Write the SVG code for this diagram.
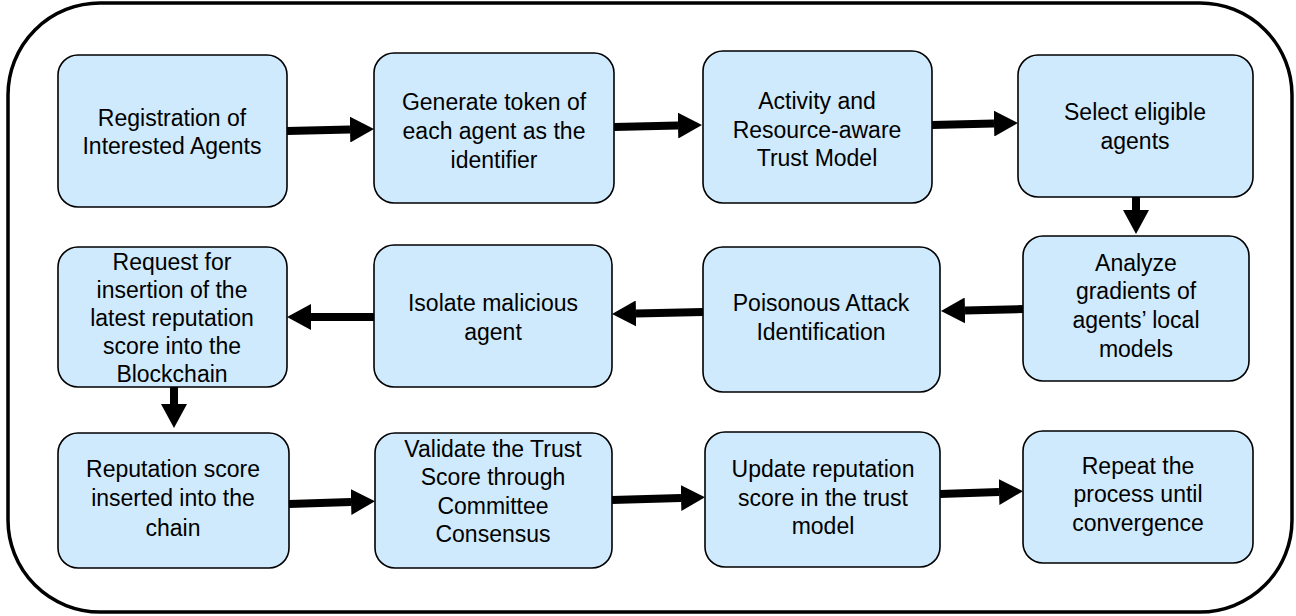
<svg xmlns="http://www.w3.org/2000/svg" width="1296" height="616" viewBox="0 0 1296 616">
<defs>
<style>
.frame{fill:#fff;stroke:#000;stroke-width:3.5}
.box{fill:#cfeafc;stroke:#000;stroke-width:1.6}
.t{font-family:"Liberation Sans",Arial,sans-serif;font-size:23px;fill:#000;text-anchor:middle}
.c{stroke:#000;stroke-width:8;fill:none}
</style>
<marker id="ah" markerUnits="userSpaceOnUse" viewBox="0 0 24 26" refX="0" refY="13" markerWidth="24" markerHeight="26" orient="auto">
<path d="M0,0 L24,13 L0,26 z" fill="#000"/>
</marker>
</defs>
<rect width="1296" height="616" fill="#fff"/>
<rect class="frame" x="8" y="3" width="1284" height="609" rx="92" ry="92"/>
<g id="n1"><rect class="box" x="58" y="55" width="229" height="152" rx="20"/>
<text class="t" x="172" y="126">Registration of</text><text class="t" x="172" y="154">Interested Agents</text></g>
<g id="n2"><rect class="box" x="374" y="53" width="240" height="150" rx="20"/>
<text class="t" x="494" y="110">Generate token of</text><text class="t" x="494" y="139">each agent as the</text><text class="t" x="494" y="168">identifier</text></g>
<g id="n3"><rect class="box" x="703" y="51" width="229" height="152" rx="20"/>
<text class="t" x="817" y="109">Activity and</text><text class="t" x="817" y="138">Resource-aware</text><text class="t" x="817" y="166">Trust Model</text></g>
<g id="n4"><rect class="box" x="1018" y="55" width="235" height="142" rx="20"/>
<text class="t" x="1135" y="120">Select eligible</text><text class="t" x="1135" y="149">agents</text></g>
<g id="n5"><rect class="box" x="58" y="247" width="229" height="140" rx="20"/>
<text class="t" x="172" y="270">Request for</text><text class="t" x="172" y="298">insertion of the</text><text class="t" x="172" y="326">latest reputation</text><text class="t" x="172" y="354">score into the</text><text class="t" x="172" y="382">Blockchain</text></g>
<g id="n6"><rect class="box" x="374" y="245" width="238" height="142" rx="20"/>
<text class="t" x="493" y="311">Isolate malicious</text><text class="t" x="493" y="340">agent</text></g>
<g id="n7"><rect class="box" x="703" y="247" width="237" height="145" rx="20"/>
<text class="t" x="821" y="311">Poisonous Attack</text><text class="t" x="821" y="340">Identification</text></g>
<g id="n8"><rect class="box" x="1023" y="236" width="226" height="145" rx="20"/>
<text class="t" x="1136" y="271">Analyze</text><text class="t" x="1136" y="299">gradients of</text><text class="t" x="1136" y="328">agents’ local</text><text class="t" x="1136" y="357">models</text></g>
<g id="n9"><rect class="box" x="58" y="433" width="231" height="135" rx="20"/>
<text class="t" x="173" y="477">Reputation score</text><text class="t" x="173" y="506">inserted into the</text><text class="t" x="173" y="536">chain</text></g>
<g id="n10"><rect class="box" x="375" y="433" width="237" height="135" rx="20"/>
<text class="t" x="493" y="457">Validate the Trust</text><text class="t" x="493" y="485">Score through</text><text class="t" x="493" y="514">Committee</text><text class="t" x="493" y="542">Consensus</text></g>
<g id="n11"><rect class="box" x="705" y="432" width="235" height="135" rx="20"/>
<text class="t" x="823" y="477">Update reputation</text><text class="t" x="823" y="506">score in the trust</text><text class="t" x="823" y="534">model</text></g>
<g id="n12"><rect class="box" x="1023" y="431" width="230" height="132" rx="20"/>
<text class="t" x="1138" y="474">Repeat the</text><text class="t" x="1138" y="502">process until</text><text class="t" x="1138" y="531">convergence</text></g>
<g id="connectors">
<line class="c" x1="287" y1="131" x2="350" y2="129.5" marker-end="url(#ah)"/>
<line class="c" x1="614" y1="127" x2="678" y2="125.5" marker-end="url(#ah)"/>
<line class="c" x1="932" y1="125" x2="994" y2="123.5" marker-end="url(#ah)"/>
<line class="c" x1="1136" y1="197" x2="1136" y2="210" marker-end="url(#ah)"/>
<line class="c" x1="1023" y1="309" x2="965" y2="310.5" marker-end="url(#ah)"/>
<line class="c" x1="703" y1="312" x2="636" y2="313.5" marker-end="url(#ah)"/>
<line class="c" x1="374" y1="317" x2="311" y2="317" marker-end="url(#ah)"/>
<line class="c" x1="174" y1="387" x2="174" y2="404" marker-end="url(#ah)"/>
<line class="c" x1="289" y1="504" x2="351" y2="502" marker-end="url(#ah)"/>
<line class="c" x1="612" y1="500" x2="681" y2="498" marker-end="url(#ah)"/>
<line class="c" x1="940" y1="494" x2="999" y2="492" marker-end="url(#ah)"/>
</g>
</svg>
